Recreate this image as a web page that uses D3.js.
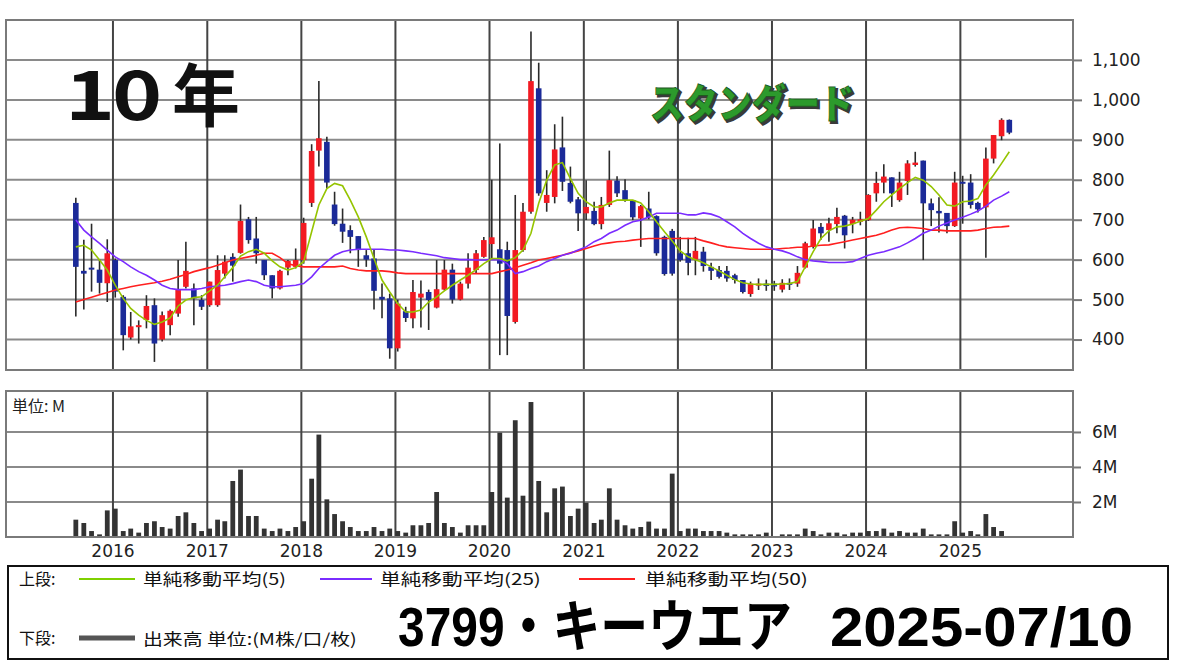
<!DOCTYPE html>
<html><head><meta charset="utf-8">
<script src="https://cdn.jsdelivr.net/npm/d3@7"></script>
<style>body{margin:0;background:#fff;}svg{display:block;}</style>
</head><body><svg id="c" width="1180" height="663"></svg>
<script>
// ---- data (monthly, Aug 2015 - Jul 2025) ----
const open=[742,572,580,575,541,599,507,405,433,449,
486,400,436,465,532,528,499,486,486,565,
607,617,701,653,599,561,528,580,582,599,
742,873,895,738,690,674,659,611,603,507,
503,378,471,453,505,519,480,525,575,500,
540,574,607,639,626,624,444,624,720,1029,
742,757,881,792,751,716,722,689,737,798,
774,749,703,728,709,657,672,616,616,600,
620,582,574,572,561,549,514,536,540,540,
525,542,540,580,632,682,674,689,710,689,
695,699,766,793,806,749,797,837,848,741,
722,717,684,795,793,742,731,853,909,950];
const high=[755,650,690,600,651,603,511,469,448,511,
503,470,475,599,645,540,511,545,611,611,
616,738,707,707,599,561,575,599,628,705,
889,1047,908,770,728,686,659,624,624,540,
515,500,482,549,548,525,599,599,590,545,
616,624,657,800,891,645,762,742,1171,1093,
824,939,958,833,757,799,745,757,873,809,
801,749,737,770,711,660,677,657,655,657,
632,592,584,584,565,549,545,553,550,547,
551,553,584,645,699,692,705,730,712,707,
720,764,820,839,806,820,849,870,848,753,
756,717,820,810,814,745,881,912,954,951];
const low=[458,475,520,515,494,505,373,400,390,428,
344,395,411,457,528,436,474,482,482,553,
545,615,640,590,549,503,525,561,578,590,
732,833,778,685,642,616,582,582,475,453,
352,370,444,428,430,424,478,523,490,498,
528,565,605,599,361,361,440,620,715,760,
720,741,772,741,672,699,686,676,732,757,
745,699,632,701,610,560,560,595,561,561,
570,549,553,545,540,515,507,524,522,522,
518,524,532,578,628,650,645,666,628,666,
686,697,745,766,732,745,762,833,599,684,
668,666,682,690,728,718,605,841,899,914];
const close=[582,565,575,542,616,520,411,433,436,484,
390,461,472,524,572,503,482,545,574,595,
585,697,649,616,561,528,572,597,599,692,
872,904,793,689,670,657,624,600,522,500,
378,490,454,519,515,499,526,575,500,540,
580,616,649,656,590,459,624,720,1047,766,
762,876,795,745,716,732,689,737,799,766,
749,706,734,706,616,564,565,599,592,622,
584,572,557,553,549,519,540,540,534,533,
542,538,567,641,678,666,691,707,661,700,
701,762,792,808,766,793,841,843,741,724,
716,684,793,791,737,726,853,912,950,918];
const volume=[0.99,0.80,0.34,0.15,1.52,1.62,0.34,0.48,0.25,0.80,
0.90,0.57,0.48,1.20,1.41,0.80,0.34,0.48,0.99,0.90,
3.20,3.85,1.20,1.20,0.48,0.34,0.48,0.34,0.57,0.90,
3.33,5.85,2.15,1.31,0.90,0.57,0.34,0.34,0.57,0.34,
0.48,0.34,0.25,0.67,0.67,0.80,2.57,0.80,0.57,0.25,
0.67,0.67,0.67,2.57,5.96,2.25,6.67,2.36,7.71,3.20,
1.41,2.78,2.88,1.20,1.62,1.96,0.80,0.99,2.78,0.99,
0.67,0.48,0.57,0.88,0.48,0.48,3.62,0.34,0.48,0.48,
0.34,0.34,0.34,0.25,0.15,0.15,0.15,0.15,0.25,0.04,
0.15,0.15,0.15,0.48,0.34,0.15,0.25,0.25,0.15,0.25,
0.25,0.34,0.34,0.48,0.25,0.34,0.25,0.25,0.48,0.15,
0.15,0.15,0.90,0.25,0.34,0.15,1.31,0.57,0.34,0.04];
const ma5=[632,636,624,599,574,536,503,478,461,448,
438,444,454,484,499,505,507,522,536,557,
580,609,620,626,616,597,582,574,580,595,
670,737,778,791,785,749,707,657,603,549,
519,490,469,469,474,494,507,522,536,549,
561,575,590,603,603,597,605,624,666,741,
799,837,843,803,766,745,732,732,742,749,
749,749,742,720,695,670,647,622,607,600,
592,582,572,561,550,542,539,538,538,538,
539,540,545,582,620,653,672,682,684,689,
696,703,724,745,762,778,793,806,799,783,
762,737,734,745,747,753,787,812,841,870];
const ma25=[699,674,657,641,624,607,595,582,570,561,
549,536,528,525,525,525,528,532,534,536,
540,545,549,545,536,532,532,534,536,540,
557,578,595,611,620,624,626,626,626,626,
624,624,622,620,616,613,610,605,603,600,
600,599,599,600,600,590,565,570,578,584,
595,603,611,616,624,632,645,653,666,674,
686,695,699,707,716,716,716,716,712,712,
717,714,707,695,682,666,653,641,632,626,
622,616,607,600,597,595,593,593,593,595,
603,611,616,620,626,632,642,653,666,674,
684,692,699,706,714,722,734,749,759,770];
const ma50=[494,500,506,512,518,524,528,532,536,539,
542,546,551,557,563,570,575,580,586,592,
599,603,607,611,616,616,605,590,585,582,
582,582,582,582,584,578,574,572,572,572,
570,567,565,565,565,565,565,565,565,565,
565,565,565,565,570,574,580,586,592,599,
603,607,611,617,622,628,634,639,642,645,
646,649,651,653,653,653,653,653,653,653,
647,642,636,632,630,628,626,626,626,626,
628,629,631,631,634,636,637,641,645,649,
653,657,661,667,674,680,681,680,678,674,
674,672,672,672,672,674,678,681,682,684];
const priceTicks=[400,500,600,700,800,900,1000,1100];
const volTicks=[2,4,6];
const years=[2016,2017,2018,2019,2020,2021,2022,2023,2024,2025];
const months=d3.timeMonth.range(new Date(2015,7,1),new Date(2025,7,1));

const svg=d3.select('#c');
svg.append('rect').attr('width',1180).attr('height',663).attr('fill','#fff');

const L=6,R=1073;
const x=d3.scaleTime().domain([new Date(2014,10,12),new Date(2026,2,14)]).range([L,R]);
const y=d3.scaleLinear().domain([323.75,1200]).range([370,20]);
const yv=d3.scaleLinear().domain([0,8.34]).range([537,391]);
const cx=i=>x(months[i])+2.3;
const FONT="'DejaVu Sans',Verdana,sans-serif";
const JP="'Noto Sans CJK JP',sans-serif";

// fit a text to a target width with a horizontal scale
function fitText(sel,x0,y0,w){
  const n=sel.node().getComputedTextLength();
  sel.attr('x',null).attr('y',null)
     .attr('transform',`translate(${x0},${y0}) scale(${w/n},1)`);
  return sel;
}

// ---- price panel ----
const pg=svg.append('g');
pg.selectAll('line.h').data(priceTicks).join('line')
  .attr('x1',L).attr('x2',R).attr('y1',d=>y(d)).attr('y2',d=>y(d))
  .attr('stroke','#8a8a8a').attr('stroke-width',2);
pg.selectAll('line.v').data(years).join('line')
  .attr('x1',d=>x(new Date(d,0,1))).attr('x2',d=>x(new Date(d,0,1)))
  .attr('y1',20).attr('y2',370).attr('stroke','#444').attr('stroke-width',2);
pg.append('rect').attr('x',L).attr('y',20).attr('width',R-L).attr('height',350)
  .attr('fill','none').attr('stroke','#7a7a7a').attr('stroke-width',2);
const ax=d3.axisRight(y).tickValues(priceTicks).tickSize(9).tickPadding(10)
  .tickFormat(d3.format(','));
const axg=svg.append('g').attr('transform',`translate(${R},0)`).call(ax);
axg.select('.domain').remove();
axg.selectAll('line').attr('stroke','#777').attr('stroke-width',2);
axg.selectAll('text').attr('font-family',FONT).attr('font-size',17).attr('fill','#222');

// titles
const t10=svg.append('g').attr('font-family',JP).attr('font-weight',700).attr('fill','#111');
t10.append('text').attr('transform','translate(90,120) scale(1.25,1)').attr('text-anchor','middle').attr('font-size',68).text('1');
t10.append('text').attr('transform','translate(137,120) scale(1.25,1)').attr('text-anchor','middle').attr('font-size',68).text('0');
t10.append('text').attr('x',206).attr('y',121).attr('text-anchor','middle').attr('font-size',68).text('年');

const st=svg.append('g').attr('font-family',JP).attr('font-weight',900).attr('font-size',40);
fitText(st.append('text').attr('fill','#3a3a3a').attr('stroke','#3a3a3a').attr('stroke-width',2).text('スタンダード'),652,120,204);
fitText(st.append('text').attr('fill','#2c9a2c').attr('stroke','#1f5a1f').attr('stroke-width',0.8).text('スタンダード'),650,118,204);

// candles
const cg=svg.append('g');
const idx=d3.range(months.length);
cg.selectAll('line.w').data(idx).join('line')
  .attr('x1',cx).attr('x2',cx).attr('y1',i=>y(high[i])).attr('y2',i=>y(low[i]))
  .attr('stroke','#2a2a2a').attr('stroke-width',1.6);
cg.selectAll('rect.b').data(idx).join('rect')
  .attr('x',i=>cx(i)-2.8).attr('width',5.6)
  .attr('y',i=>y(Math.max(open[i],close[i])))
  .attr('height',i=>Math.max(2,Math.abs(y(open[i])-y(close[i]))))
  .attr('fill',i=>close[i]>=open[i]?'#f21a22':'#1b2a98');

// moving averages
const line=arr=>d3.line().x((d,i)=>cx(i)).y(d=>y(d))(arr);
svg.append('path').attr('d',line(ma50)).attr('fill','none').attr('stroke','#ff1f1f').attr('stroke-width',1.6);
svg.append('path').attr('d',line(ma25)).attr('fill','none').attr('stroke','#7a2cff').attr('stroke-width',1.6);
svg.append('path').attr('d',line(ma5)).attr('fill','none').attr('stroke','#95c400').attr('stroke-width',1.6);

// ---- volume panel ----
const vg=svg.append('g');
vg.selectAll('line.h').data(volTicks).join('line')
  .attr('x1',L).attr('x2',R).attr('y1',d=>yv(d)).attr('y2',d=>yv(d))
  .attr('stroke','#8a8a8a').attr('stroke-width',2);
vg.selectAll('line.v').data(years).join('line')
  .attr('x1',d=>x(new Date(d,0,1))).attr('x2',d=>x(new Date(d,0,1)))
  .attr('y1',391).attr('y2',537).attr('stroke','#444').attr('stroke-width',2);
vg.selectAll('rect.v').data(idx).join('rect')
  .attr('x',i=>cx(i)-2.4).attr('width',4.8)
  .attr('y',i=>yv(volume[i])).attr('height',i=>yv(0)-yv(volume[i]))
  .attr('fill','#333');
vg.append('rect').attr('x',L).attr('y',391).attr('width',R-L).attr('height',146)
  .attr('fill','none').attr('stroke','#7a7a7a').attr('stroke-width',2);
const avx=d3.axisRight(yv).tickValues(volTicks).tickSize(8).tickPadding(11).tickFormat(d=>d+'M');
const avg=svg.append('g').attr('transform',`translate(${R},0)`).call(avx);
avg.select('.domain').remove();
avg.selectAll('line').attr('stroke','#777').attr('stroke-width',2);
avg.selectAll('text').attr('font-family',FONT).attr('font-size',17).attr('fill','#222');
svg.append('text').attr('x',12).attr('y',412).attr('font-family',JP).attr('font-size',16).attr('fill','#222').text('単位: M');

// year labels
svg.selectAll('text.yr').data(years).join('text')
  .attr('x',d=>x(new Date(d,0,1))).attr('y',557).attr('text-anchor','middle')
  .attr('font-family',FONT).attr('font-size',17).attr('fill','#222').text(d=>d);

// ---- legend box ----
const lg=svg.append('g');
lg.append('rect').attr('x',8).attr('y',566).attr('width',1160).attr('height',93)
  .attr('fill','#fff').attr('stroke','#111').attr('stroke-width',2);
const lt=(t,x0,y0,w)=>{const e=lg.append('text').attr('font-family',JP).attr('font-size',16).attr('fill','#111').text(t);
  if(w) fitText(e,x0,y0,w); else e.attr('x',x0).attr('y',y0);};
lt('上段:',19,585);
lg.append('line').attr('x1',79).attr('x2',135).attr('y1',579).attr('y2',579).attr('stroke','#7fd000').attr('stroke-width',2);
lt('単純移動平均(5)',143,585,143);
lg.append('line').attr('x1',320).attr('x2',372).attr('y1',579).attr('y2',579).attr('stroke','#7a2cff').attr('stroke-width',2);
lt('単純移動平均(25)',380,585,161);
lg.append('line').attr('x1',579).attr('x2',635).attr('y1',579).attr('y2',579).attr('stroke','#ff1f1f').attr('stroke-width',2);
lt('単純移動平均(50)',645,585,163);
lt('下段:',19,644);
lg.append('line').attr('x1',79).attr('x2',135).attr('y1',638).attr('y2',638).attr('stroke','#555').attr('stroke-width',5);
lt('出来高 単位:(M株/口/枚)',143,645,214);
const big=(t,x0,w)=>fitText(lg.append('text').attr('font-family',"'Liberation Sans','Noto Sans CJK JP',sans-serif")
  .attr('font-weight',700).attr('font-size',56).attr('fill','#000').text(t),x0,646,w);
big('3799・キーウエア',398,394);
big('2025-07/10',830,303);
</script></body></html>
